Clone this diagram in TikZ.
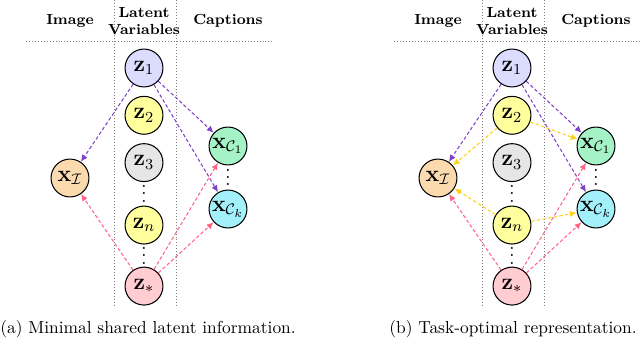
\documentclass[tikz,border=0pt]{standalone}
\usepackage{amsmath,amssymb}
\usepackage{graphicx}
\usepackage{xcolor}
\usetikzlibrary{arrows.meta,positioning,calc}
\definecolor{zfirst}{HTML}{DCDCFF}
\definecolor{zmid}{HTML}{FFFF9E}
\definecolor{zgray}{HTML}{E6E6E6}
\definecolor{zstar}{HTML}{FFCCD2}
\definecolor{ximg}{HTML}{FBDAB0}
\definecolor{xcapa}{HTML}{A4F2C6}
\definecolor{xcapb}{HTML}{A4F0FA}
\definecolor{apurple}{HTML}{8040C8}
\definecolor{apink}{HTML}{FF6685}
\definecolor{ayellow}{HTML}{FFD21A}
\newcommand\coldots{\vbox{\baselineskip4.3pt\lineskiplimit0pt\hbox{.}\hbox{.}\hbox{.}}}
\newcommand\vlab[1]{\scalebox{1.1}{$#1$}}

\begin{document}
\begin{tikzpicture}[x=0.575pt,y=-0.575pt,
  var/.style={circle,draw,line width=0.6pt,minimum size=21.8pt,inner sep=0pt,font=\large},
  hdr/.style={font=\fontsize{8.4}{9.8}\selectfont\bfseries,align=center},
  sep/.style={gray,line width=0.5pt,dash pattern=on 0.5pt off 1.2pt},
  arr/.style={-{Latex[length=4pt,width=3.6pt]},line width=0.6pt,dash pattern=on 2pt off 1.3pt},
  dts/.style={inner sep=0pt,font=\large}]
\useasboundingbox (0,0) rectangle (640,340);
\foreach \p/\dx/\cx/\cap in {a/0/148/{(a) Minimal shared latent information.},
                             b/368/513/{(b) Task-optimal representation.}}{
  \begin{scope}[shift={(\dx,0)}]
  % header and column rules
  \draw[sep] (26,41) -- (272,41);
  \draw[sep] (114,0) -- (114,306);
  \draw[sep] (176,0) -- (176,306);
  \node[hdr] (\p-himg) at (70,21) {Image};
  \node[hdr] (\p-hlat) at (144,21) {Latent\\Variables};
  \node[hdr] (\p-hcap) at (228,21) {Captions};
  % latent column
  \node[var,fill=zfirst] (\p-z1) at (144,68) {\vlab{\mathbf{z}_1}};
  \node[var,fill=zmid,below=4.8pt of \p-z1] (\p-z2) {\vlab{\mathbf{z}_2}};
  \node[var,fill=zgray,below=4.8pt of \p-z2] (\p-z3) {\vlab{\mathbf{z}_3}};
  \node[var,fill=zmid,below=13.5pt of \p-z3] (\p-zn) {\vlab{\mathbf{z}_n}};
  \node[var,fill=zstar,below=12.7pt of \p-zn] (\p-zs) {\vlab{\mathbf{z}_*}};
  \node[dts] (\p-d1) at ($(\p-z3)!0.5!(\p-zn)$) {\coldots};
  \node[dts] (\p-d2) at ($(\p-zn)!0.5!(\p-zs)$) {\coldots};
  % observed
  \node[var,fill=ximg] (\p-img) at (70,178) {\vlab{\mathbf{x}_{\mathcal{I}}}};
  \node[var,fill=xcapa] (\p-c1) at (228,146) {\vlab{\mathbf{x}_{\mathcal{C}_1}}};
  \node[var,fill=xcapb] (\p-ck) at (228,209) {\vlab{\mathbf{x}_{\mathcal{C}_k}}};
  \node[dts] (\p-d3) at ($(\p-c1)!0.5!(\p-ck)$) {\coldots};
  \draw[arr,apurple] (\p-z1) -- (\p-img);
  \draw[arr,apurple] (\p-z1) -- (\p-c1);
  \draw[arr,apurple] (\p-z1) -- (\p-ck);
  \draw[arr,apink] (\p-zs) -- (\p-img);
  \draw[arr,apink] (\p-zs) -- (\p-c1);
  \draw[arr,apink] (\p-zs) -- (\p-ck);
  \end{scope}
  \node[anchor=base] (\p-cap) at (\cx,333.6) {\cap};
}
% task-specific parts
\draw[arr,ayellow] (b-z2) -- (b-img);
\draw[arr,ayellow] (b-z2) -- (b-c1);
\draw[arr,ayellow] (b-zn) -- (b-img);
\draw[arr,ayellow] (b-zn) -- (b-ck);
\end{tikzpicture}
\end{document}
